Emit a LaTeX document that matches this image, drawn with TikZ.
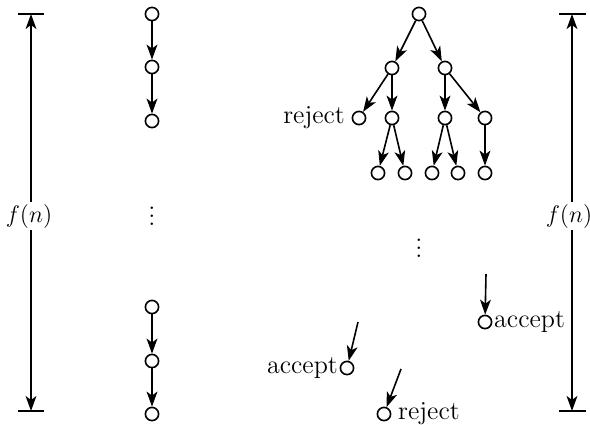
\documentclass[tikz,border=0pt]{standalone}
\usetikzlibrary{arrows.meta}
\begin{document}
\begin{tikzpicture}[x=0.5pt,y=-0.5pt,line width=0.8pt,
  st/.style={circle,draw,minimum size=6.6pt,inner sep=0pt},
  tip/.tip={Stealth[length=7.5pt,width=5.4pt,inset=2pt]},
  arr/.style={-tip},
  lbl/.style={font=\fontsize{13}{15}\selectfont,inner sep=1pt},
  lab/.style={font=\fontsize{13}{15}\selectfont,fill=white,inner sep=1pt},
  tick/.style={line width=0.9pt}]
\useasboundingbox (0,0) rectangle (590,424);
% left bracket
\coordinate (lt) at (31,14); \coordinate (lb) at (31,411);
\draw[tick] (18,14) -- (44,14);
\draw[tick] (18,411) -- (44,411);
\draw[tip-tip] (lt) -- (lb);
\node[lab] (fl) at (29,216) {$f(n)$};
% right bracket
\coordinate (rt) at (572,14); \coordinate (rb) at (572,411);
\draw[tick] (559,14) -- (586,14);
\draw[tick] (559,411) -- (586,411);
\draw[tip-tip] (rt) -- (rb);
\node[lab] (fr) at (569,216) {$f(n)$};
% deterministic chain
\node[st] (d1) at (152,14) {};
\node[st] (d2) at (152,67) {};
\node[st] (d3) at (152,121) {};
\draw[arr] (d1) -- (d2);
\draw[arr] (d2) -- (d3);
\node[lbl] (dd) at (152,210) {$\vdots$};
\node[st] (d4) at (152,307) {};
\node[st] (d5) at (152,361) {};
\node[st] (d6) at (152,414) {};
\draw[arr] (d4) -- (d5);
\draw[arr] (d5) -- (d6);
% tree
\node[st] (r) at (419,14) {};
\node[st] (a) at (392,68) {};
\node[st] (b) at (445,68) {};
\node[st] (a1) at (359,118) {};
\node[st] (a2) at (392,118) {};
\node[st] (b1) at (445,118) {};
\node[st] (b2) at (485,118) {};
\node[st] (c1) at (378,173) {};
\node[st] (c2) at (405,173) {};
\node[st] (c3) at (432,173) {};
\node[st] (c4) at (458,173) {};
\node[st] (c5) at (485,173) {};
\draw[arr] (r) -- (a);
\draw[arr] (r) -- (b);
\draw[arr] (a) -- (a1);
\draw[arr] (a) -- (a2);
\draw[arr] (b) -- (b1);
\draw[arr] (b) -- (b2);
\draw[arr] (a2) -- (c1);
\draw[arr] (a2) -- (c2);
\draw[arr] (b1) -- (c3);
\draw[arr] (b1) -- (c4);
\draw[arr] (b2) -- (c5);
\node[lbl,anchor=east] (rj1) at ([xshift=-2pt]a1.west) {reject};
\node[lbl] (td) at (419,242) {$\vdots$};
% leaves
\node[st] (e1) at (485,322) {};
\coordinate (e1s) at (486,274);
\draw[arr] (e1s) -- (e1);
\node[lbl,anchor=west,inner sep=0.5pt] (ac1) at (e1.east) {accept};
\node[st] (e2) at (347,368) {};
\coordinate (e2s) at (358,322);
\draw[arr] (e2s) -- (e2);
\node[lbl,anchor=east,inner sep=0.5pt] (ac2) at (e2.west) {accept};
\node[st] (e3) at (384,414) {};
\coordinate (e3s) at (401,369);
\draw[arr] (e3s) -- (e3);
\node[lbl,anchor=west,inner sep=1pt] (rj2) at ([xshift=2pt]e3.east) {reject};
\end{tikzpicture}
\end{document}
